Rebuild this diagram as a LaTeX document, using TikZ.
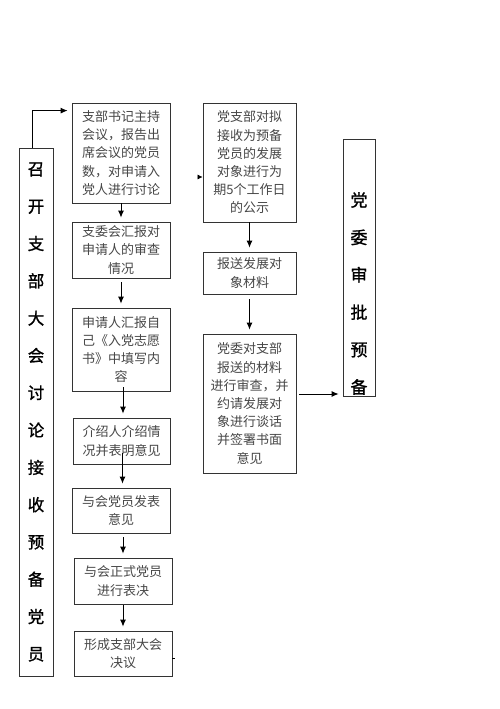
\documentclass[tikz,border=0pt]{standalone}
\usepackage{fontspec}
\setmainfont{Noto Sans CJK SC}
\newfontfamily\heavycjk[FakeBold=1.2]{Noto Sans CJK SC}
\usetikzlibrary{arrows.meta,calc}
\begin{document}
\begin{tikzpicture}[x=1pt,y=-1pt,
  box/.style={draw=black!80,line width=0.8pt,inner sep=0pt,align=center,text=black!72,
    font=\fontsize{13}{18.2}\selectfont},
  tallbox/.style={draw=black!80,line width=0.8pt,inner sep=0pt,align=center,text=black,
    font=\heavycjk\fontsize{16.5}{37.3}\selectfont},
  arr/.style={line width=0.9pt,-{Latex[length=7pt,width=6pt]},shorten >=4pt}]
\useasboundingbox[fill=white] (0,0) rectangle (500,709);
% left column
\node[tallbox,minimum width=34pt,minimum height=528pt] (lb) at (36,412) {召\\开\\支\\部\\大\\会\\讨\\论\\接\\收\\预\\备\\党\\员};
\node[box,minimum width=98pt,minimum height=100pt] (b1) at (121,153) {支部书记主持\\会议，报告出\\席会议的党员\\数，对申请入\\党人进行讨论};
\node[box,minimum width=98pt,minimum height=56pt] (b2) at (121,250) {支委会汇报对\\申请人的审查\\情况};
\node[box,minimum width=98pt,minimum height=83pt] (b3) at (121,349.5) {申请人汇报自\\己《入党志愿\\书》中填写内\\容};
\node[box,minimum width=97pt,minimum height=46pt] (b4) at (121.5,441) {介绍人介绍情\\况并表明意见};
\node[box,minimum width=98pt,minimum height=45pt] (b5) at (121,510.5) {与会党员发表\\意见};
\node[box,minimum width=98pt,minimum height=46pt] (b6) at (123,581) {与会正式党员\\进行表决};
\node[box,minimum width=98pt,minimum height=45pt] (b7) at (123,653.5) {形成支部大会\\决议};
% middle column
\node[box,minimum width=93pt,minimum height=119pt] (b8) at (249.5,162.5) {党支部对拟\\接收为预备\\党员的发展\\对象进行为\\期5个工作日\\的公示};
\node[box,minimum width=93pt,minimum height=42pt] (b9) at (249.5,273) {报送发展对\\象材料};
\node[box,minimum width=93pt,minimum height=139pt] (b10) at (249.5,403.5) {党委对支部\\报送的材料\\进行审查，并\\约请发展对\\象进行谈话\\并签署书面\\意见};
% right column
\node[draw=black!80,line width=0.8pt,minimum width=32pt,minimum height=257pt,inner sep=0pt] (rb) at (359,267.5) {};
\node[inner sep=0pt,align=center,font=\heavycjk\fontsize{17}{37.4}\selectfont] (rbt) at (359,293.5) {党\\委\\审\\批\\预\\备};
% connectors
\draw[arr] ([xshift=-4pt]lb.north) |- ([yshift=-8pt]b1.north west);
\draw[arr] (b1.south) -- (b1.south |- b2.north);
\draw[arr] ([yshift=-4pt]b2.south) -- (b2.south |- b3.north);
\draw[arr] ([shift={(2pt,4pt)}]b3.south) -- ([xshift=2pt]b3.south |- b4.north);
\draw[arr] ([shift={(1pt,11pt)}]b4.south) -- ([xshift=1pt]b4.south |- b5.north);
\draw[arr] ([shift={(2pt,-4pt)}]b5.south) -- ([xshift=2pt]b5.south |- b6.north);
\draw[arr] ([yshift=-1pt]b6.south) -- (b6.south |- b7.north);
\draw[arr] (b8.south) -- (b8.south |- b9.north);
\draw[arr] ([yshift=-5pt]b9.south) -- (b9.south |- b10.north);
\coordinate (s10) at ([shift={(3pt,9.5pt)}]b10.east);
\draw[arr] (s10) -- (s10 -| rb.west);
% stubs of the hidden link from the last left box to the first middle box
\coordinate (t7) at ([yshift=-4.5pt]b7.east);
\draw[line width=0.8pt] (t7) -- ++(3,0);
\coordinate (t8) at ([yshift=-14.5pt]b8.west);
\draw[line width=0.6pt,-{Latex[length=5pt,width=5pt]}] ([xshift=-5pt]t8) -- (t8);
\end{tikzpicture}
\end{document}
